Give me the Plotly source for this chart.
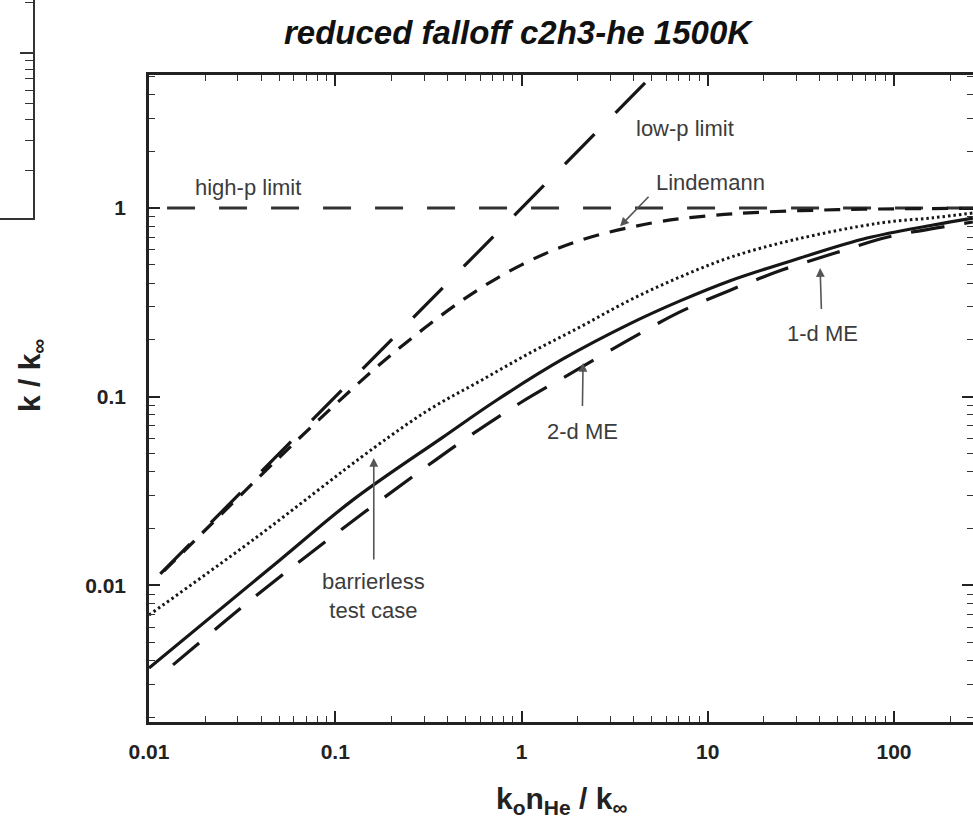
import numpy as np
import plotly.graph_objects as go

# ---------------- data ----------------
lowp_x = [0.0115, 7.0]
lowp_y = [0.0115, 7.0]

highp_x = [0.0125, 300.0]
highp_y = [1.0, 1.0]

lind_x = [0.012, 0.02, 0.05, 0.1, 0.2, 0.5, 1.0, 2.0, 5.0, 10.0, 20.0, 50.0, 100.0, 300.0]
lind_y = [0.0119, 0.0196, 0.0476, 0.0909, 0.167, 0.333, 0.5, 0.667, 0.833, 0.909, 0.952, 0.980, 0.990, 0.997]

barr_x = [0.01, 0.0361, 0.161, 0.323, 0.598, 1.11, 2.06, 3.83, 7.10, 13.2, 28.7, 84.1, 162.0, 265.0]
barr_y = [0.00697, 0.0174, 0.0535, 0.086, 0.121, 0.1706, 0.234, 0.3255, 0.431, 0.548, 0.677, 0.833, 0.888, 0.941]

me_solid_x = [0.01, 0.0505, 0.1245, 0.379, 0.738, 1.67, 3.83, 7.10, 13.2, 31.3, 71.6, 162.0, 265.0]
me_solid_y = [0.00365, 0.01364, 0.0284, 0.0611, 0.0961, 0.1585, 0.244, 0.322, 0.412, 0.543, 0.693, 0.813, 0.885]

me_dash_x = [0.01346, 0.0380, 0.0937, 0.268, 0.516, 0.982, 1.89, 3.60, 6.92, 13.2, 25.0, 48.2, 92.9, 177.0, 265.0]
me_dash_y = [0.00379, 0.00889, 0.0178, 0.0385, 0.0611, 0.0926, 0.135, 0.195, 0.278, 0.367, 0.469, 0.577, 0.702, 0.790, 0.843]

x_tickvals = [0.01, 0.1, 1, 10, 100]
x_ticktext = ["0.01", "0.1", "1", "10", "100"]
y_tickvals = [0.01, 0.1, 1]
y_ticktext = ["0.01", "0.1", "1"]

title_text = "reduced falloff c2h3-he 1500K"
x_title = "k<sub>o</sub>n<sub>He</sub> / k<sub>\u221e</sub>"
y_title = "k / k<sub>\u221e</sub>"

# ---------------- layout constants ----------------
W, H = 973, 820
FONT = "Liberation Sans, Arial, Helvetica, sans-serif"
INK = "#161616"
LABEL = "#3c3c3c"

def minor_vals(e0, e1):
    return [m * 10.0 ** e for e in range(e0, e1) for m in range(2, 10)]

fig = go.Figure()

line_common = dict(mode="lines", showlegend=False, hoverinfo="skip")
fig.add_trace(go.Scatter(x=highp_x, y=highp_y, line=dict(color="#333333", width=3, dash="28px,24px"), **line_common))
fig.add_trace(go.Scatter(x=lowp_x, y=lowp_y, line=dict(color=INK, width=3.2, dash="42px,30px"), **line_common))
fig.add_trace(go.Scatter(x=lind_x, y=lind_y, line=dict(color=INK, width=3.2, dash="16px,11px", shape="spline"), **line_common))
fig.add_trace(go.Scatter(x=barr_x, y=barr_y, line=dict(color=INK, width=3.0, dash="2.5px,3px", shape="spline"), **line_common))
fig.add_trace(go.Scatter(x=me_solid_x, y=me_solid_y, line=dict(color=INK, width=3.2, shape="spline"), **line_common))
fig.add_trace(go.Scatter(x=me_dash_x, y=me_dash_y, line=dict(color=INK, width=3.2, dash="34px,20px", shape="spline"), **line_common))

# fragment of neighbouring panel (top-left corner of the reference)
fig.add_trace(go.Scatter(x=[], y=[], xaxis="x2", yaxis="y2", showlegend=False))

axis_common = dict(
    showgrid=False, zeroline=False, showline=True, linecolor="#222222", linewidth=2.5,
    mirror="allticks", ticks="inside", ticklen=11, tickwidth=1.5, tickcolor="#222222",
    tickfont=dict(family=FONT, size=21, color="#222222", weight="bold"),
    tickmode="array", automargin=False,
)

fig.update_layout(
    template="none",
    width=W, height=H,
    margin=dict(l=0, r=0, t=0, b=0, pad=0),
    paper_bgcolor="white", plot_bgcolor="white",
    showlegend=False,
    xaxis=dict(
        type="log", range=[-2, 2.424], domain=[149 / W, 1.0], anchor="y",
        tickvals=x_tickvals, ticktext=x_ticktext, ticklabelstandoff=9,
        minor=dict(tickmode="array", tickvals=minor_vals(-2, 3), ticks="inside", ticklen=6,
                   tickwidth=1.2, tickcolor="#333333", showgrid=False),
        **axis_common,
    ),
    yaxis=dict(
        type="log", range=[-2.724, 0.705], domain=[(H - 722) / H, (H - 75) / H], anchor="x",
        tickvals=y_tickvals, ticktext=y_ticktext, ticklabelstandoff=16,
        minor=dict(tickmode="array", tickvals=minor_vals(-3, 1), ticks="inside", ticklen=6,
                   tickwidth=1.2, tickcolor="#333333", showgrid=False),
        **axis_common,
    ),
    xaxis2=dict(
        domain=[0, 33 / W], anchor="y2", range=[0, 1], showgrid=False, zeroline=False,
        showline=True, linecolor="#333333", linewidth=2, ticks="", showticklabels=False,
        automargin=False,
    ),
    yaxis2=dict(
        type="log", domain=[(H - 218) / H, 1.0], anchor="x2", side="right", range=[-0.982, 0.315],
        showgrid=False, zeroline=False, showline=True, linecolor="#333333", linewidth=2,
        ticks="inside", ticklen=13, tickwidth=1.5, tickcolor="#333333", showticklabels=False,
        tickmode="array", tickvals=[0.1, 1], automargin=False,
        minor=dict(tickmode="array", tickvals=minor_vals(-1, 1), ticks="inside", ticklen=8,
                   tickwidth=1.3, tickcolor="#333333", showgrid=False),
    ),
)

ann = []
# title and axis titles
ann.append(dict(xref="paper", yref="paper", x=518 / W, y=1 - 32 / H, text=title_text, showarrow=False,
                xanchor="center", yanchor="middle",
                font=dict(family=FONT, size=33, color="#111111", weight="bold", style="italic")))
ann.append(dict(xref="paper", yref="paper", x=561 / W, y=1 - 800 / H, text=x_title, showarrow=False,
                xanchor="center", yanchor="middle",
                font=dict(family=FONT, size=30, color="#222222", weight="bold")))
ann.append(dict(xref="paper", yref="paper", x=32 / W, y=1 - 376 / H, text=y_title, showarrow=False,
                xanchor="center", yanchor="middle", textangle=-90,
                font=dict(family=FONT, size=30, color="#222222", weight="bold")))

lab_font = dict(family=FONT, size=22, color=LABEL)
arrow_style = dict(arrowhead=2, arrowsize=1.1, arrowwidth=1.6, arrowcolor="#555555", standoff=0)

def text_at(x, y, t):
    ann.append(dict(xref="x", yref="y", x=np.log10(x), y=np.log10(y), text=t, showarrow=False,
                    xanchor="center", yanchor="middle", font=lab_font))

def label_with_arrow(x, y, t, ax, ay, gap):
    # (x, y) is the arrow tip; the label sits at pixel offset (ax, ay) from it
    ann.append(dict(xref="x", yref="y", x=np.log10(x), y=np.log10(y), text=t, showarrow=True,
                    ax=ax, ay=ay, font=lab_font, startstandoff=gap, **arrow_style))

text_at(7.55, 2.65, "low-p limit")
text_at(0.034, 1.29, "high-p limit")
text_at(10.3, 1.37, "Lindemann")
ann.append(dict(xref="x", yref="y", x=np.log10(3.38), y=np.log10(0.80), text="", showarrow=True,
                ax=30, ay=-31, **arrow_style))
label_with_arrow(40.1, 0.481, "1-d ME", 2, 65, 10)
label_with_arrow(2.14, 0.151, "2-d ME", -1, 69, 12)
label_with_arrow(0.161, 0.0473, "barrierless<br>test case", 0, 138, 8)

fig.update_layout(annotations=ann)
fig.write_html("out.html")
